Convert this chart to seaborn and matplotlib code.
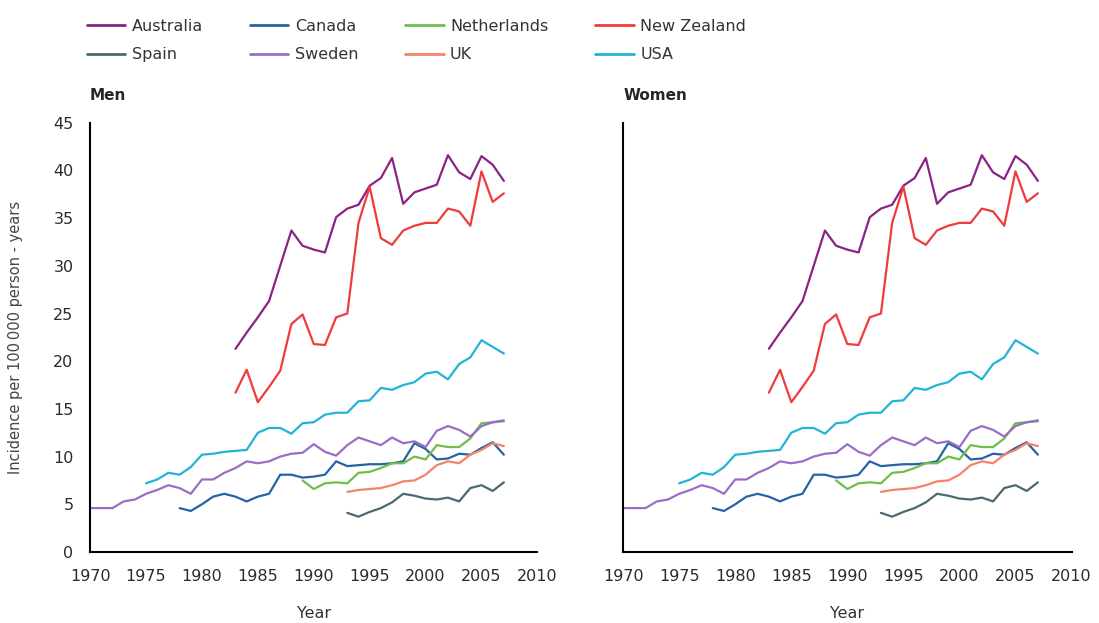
import numpy as np
import pandas as pd
import matplotlib
matplotlib.use("Agg")
import matplotlib.pyplot as plt
from matplotlib.lines import Line2D
import seaborn as sns

# Datos (incidencia por 100 000 personas-año)
paises = ["Australia", "Canada", "Netherlands", "New Zealand",
          "Spain", "Sweden", "UK", "USA"]

anios_australia = list(range(1983, 2008))
australia = [21.3, 23.0, 24.6, 26.3, 30.0, 33.7, 32.1, 31.7, 31.4, 35.1, 36.0, 36.4, 38.4,
             39.2, 41.3, 36.5, 37.7, 38.1, 38.5, 41.6, 39.8, 39.1, 41.5, 40.6, 38.9]

anios_canada = list(range(1978, 2008))
canada = [4.6, 4.3, 5.0, 5.8, 6.1, 5.8, 5.3, 5.8, 6.1, 8.1, 8.1, 7.8, 7.9, 8.1, 9.5,
          9.0, 9.1, 9.2, 9.2, 9.3, 9.5, 11.4, 10.8, 9.7, 9.8, 10.3, 10.2, 10.9, 11.5, 10.2]

anios_netherlands = list(range(1989, 2008))
netherlands = [7.5, 6.6, 7.2, 7.3, 7.2, 8.3, 8.4, 8.8, 9.3, 9.3, 10.0, 9.7, 11.2,
               11.0, 11.0, 11.9, 13.5, 13.6, 13.7]

anios_nz = list(range(1983, 2008))
new_zealand = [16.7, 19.1, 15.7, 17.3, 19.0, 23.9, 24.9, 21.8, 21.7, 24.6, 25.0, 34.5, 38.3,
               32.9, 32.2, 33.7, 34.2, 34.5, 34.5, 36.0, 35.7, 34.2, 39.9, 36.7, 37.6]

anios_spain = list(range(1993, 2008))
spain = [4.1, 3.7, 4.2, 4.6, 5.2, 6.1, 5.9, 5.6, 5.5, 5.7, 5.3, 6.7, 7.0, 6.4, 7.3]

anios_sweden = list(range(1970, 2008))
sweden = [4.6, 4.6, 4.6, 5.3, 5.5, 6.1, 6.5, 7.0, 6.7, 6.1, 7.6, 7.6, 8.3, 8.8, 9.5, 9.3,
          9.5, 10.0, 10.3, 10.4, 11.3, 10.5, 10.1, 11.2, 12.0, 11.6, 11.2, 12.0, 11.4,
          11.6, 11.0, 12.7, 13.2, 12.8, 12.1, 13.2, 13.6, 13.8]

anios_uk = list(range(1993, 2008))
uk = [6.3, 6.5, 6.6, 6.7, 7.0, 7.4, 7.5, 8.1, 9.1, 9.5, 9.3, 10.2, 10.7, 11.4, 11.1]

anios_usa = list(range(1975, 2008))
usa = [7.2, 7.6, 8.3, 8.1, 8.9, 10.2, 10.3, 10.5, 10.6, 10.7, 12.5, 13.0, 13.0, 12.4,
       13.5, 13.6, 14.4, 14.6, 14.6, 15.8, 15.9, 17.2, 17.0, 17.5, 17.8, 18.7, 18.9,
       18.1, 19.7, 20.4, 22.2, 21.5, 20.8]

colores = {
    "Australia": "#8b2384",
    "Canada": "#2563a8",
    "Netherlands": "#6fbe4a",
    "New Zealand": "#ef3b3b",
    "Spain": "#4b6a6f",
    "Sweden": "#9a6dc6",
    "UK": "#f5826a",
    "USA": "#22b4d6",
}

series = [
    ("Australia", anios_australia, australia),
    ("Canada", anios_canada, canada),
    ("Netherlands", anios_netherlands, netherlands),
    ("New Zealand", anios_nz, new_zealand),
    ("Spain", anios_spain, spain),
    ("Sweden", anios_sweden, sweden),
    ("UK", anios_uk, uk),
    ("USA", anios_usa, usa),
]

df = pd.concat(
    [pd.DataFrame({"year": a, "incidence": v, "country": p}) for p, a, v in series],
    ignore_index=True,
)

sns.set_style("white")
plt.rcParams["font.family"] = ["DejaVu Sans"]

fig = plt.figure(figsize=(10.99, 6.23), dpi=100)
ax_men = fig.add_axes([0.082, 0.114, 0.407, 0.689])
ax_women = fig.add_axes([0.567, 0.114, 0.408, 0.689])

for ax, titulo in [(ax_men, "Men"), (ax_women, "Women")]:
    sns.lineplot(data=df, x="year", y="incidence", hue="country", palette=colores,
                 hue_order=paises, errorbar=None, linewidth=1.6, legend=False, ax=ax)
    ax.set_xlim(1970, 2010)
    ax.set_ylim(0, 45)
    ax.set_xticks(range(1970, 2011, 5))
    ax.set_yticks(range(0, 46, 5))
    for s in ["top", "right"]:
        ax.spines[s].set_visible(False)
    for s in ["left", "bottom"]:
        ax.spines[s].set_color("black")
        ax.spines[s].set_linewidth(1.5)
    ax.tick_params(direction="out", length=6, width=1.3, color="black",
                   labelsize=11.5, labelcolor="#2b2b2b", pad=6)
    ax.set_xlabel("Year", fontsize=11.5, color="#333333", labelpad=16)
    ax.set_ylabel("")
    pos = ax.get_position()
    fig.text(pos.x0, 1 - 95 / 623, titulo, fontsize=11, fontweight="bold",
             va="center", ha="left")

ax_women.tick_params(axis="y", labelleft=False)
ax_men.set_ylabel("Incidence per 100\u2009000 person - years", fontsize=10.5,
                  color="#444444", labelpad=22)

# Leyenda en 2 filas x 4 columnas (matplotlib rellena por columnas)
orden = ["Australia", "Spain", "Canada", "Sweden", "Netherlands", "UK", "New Zealand", "USA"]
handles = [Line2D([], [], color=colores[p], linewidth=2) for p in orden]
fig.legend(handles, orden, ncol=4, loc="upper left", bbox_to_anchor=(0.066, 0.993),
           frameon=False, fontsize=11.5, handlelength=2.4, handletextpad=0.4,
           columnspacing=2.95, labelspacing=0.85, labelcolor="#333333")

fig.savefig("out.png", dpi=100)
